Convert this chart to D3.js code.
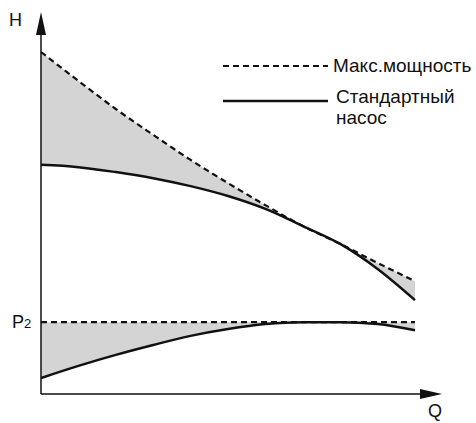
<!DOCTYPE html>
<html>
<head>
<meta charset="utf-8">
<script src="https://cdn.jsdelivr.net/npm/d3@7"></script>
<style>
  body { margin: 0; background: #fff; }
  svg { display: block; font-family: "Liberation Sans", Arial, sans-serif; }
</style>
</head>
<body>
<svg id="chart"></svg>
<script>
// flow values (Q, relative units)
var flow = [0, 10, 20, 30, 40, 50, 60, 70, 80, 90, 100];
// head curves (H, relative units)
var headMax = [90.0, 82.4, 75.0, 68.2, 61.6, 55.5, 49.7, 44.2, 39.5, 34.5, 29.7];
var headStd = [60.3, 59.7, 58.4, 56.8, 54.7, 52.1, 48.7, 44.2, 39.5, 32.9, 24.7];
// power curves
var powerMax = [18.9, 18.9, 18.9, 18.9, 18.9, 18.9, 18.9, 18.9, 18.9, 18.9, 18.9];
var powerStd = [4.2, 7.4, 10.3, 12.9, 15.3, 17.1, 18.4, 18.9, 18.9, 18.4, 16.8];
var legendLabels = ["Макс.мощность", "Стандартный", "насос"];

var width = 476, height = 423;
var svg = d3.select("#chart").attr("width", width).attr("height", height);

// scales
var x = d3.scaleLinear().domain([0, 100]).range([41, 415]);
var y = d3.scaleLinear().domain([0, 100]).range([394, 14]);

var ink = "#111";
var fillGrey = "#d4d4d4";

function pairs(ys) { return flow.map((q, i) => [q, ys[i]]); }

var area = d3.area()
  .x(d => x(d[0]))
  .y0(d => y(d[1]))
  .y1(d => y(d[2]))
  .curve(d3.curveMonotoneX);

var line = d3.line()
  .x(d => x(d[0]))
  .y(d => y(d[1]))
  .curve(d3.curveMonotoneX);

// shaded gaps
svg.append("path")
  .datum(flow.map((q, i) => [q, headStd[i], headMax[i]]))
  .attr("d", area)
  .attr("fill", fillGrey);

svg.append("path")
  .datum(flow.map((q, i) => [q, powerStd[i], powerMax[i]]))
  .attr("d", area)
  .attr("fill", fillGrey);

// curves
[[headMax, true], [headStd, false], [powerMax, true], [powerStd, false]].forEach(c => {
  svg.append("path")
    .datum(pairs(c[0]))
    .attr("d", line)
    .attr("fill", "none")
    .attr("stroke", ink)
    .attr("stroke-width", c[1] ? 2.2 : 2.5)
    .attr("stroke-dasharray", c[1] ? "6,4" : null);
});

// axes with arrows
svg.append("line")
  .attr("x1", x(0)).attr("y1", y(0))
  .attr("x2", x(0)).attr("y2", 30)
  .attr("stroke", ink).attr("stroke-width", 1.5);
svg.append("path")
  .attr("d", "M" + x(0) + ",12 L" + (x(0) - 5) + ",35 L" + (x(0) + 5) + ",35 Z")
  .attr("fill", ink);

svg.append("line")
  .attr("x1", x(0)).attr("y1", y(0))
  .attr("x2", 425).attr("y2", y(0))
  .attr("stroke", ink).attr("stroke-width", 1.5);
svg.append("path")
  .attr("d", "M442," + y(0) + " L420," + (y(0) - 5) + " L420," + (y(0) + 5) + " Z")
  .attr("fill", ink);

// axis labels
svg.append("text").attr("x", 9).attr("y", 26)
  .attr("font-size", 18).attr("fill", ink).text("H");
svg.append("text").attr("x", 428).attr("y", 417)
  .attr("font-size", 18).attr("fill", ink).text("Q");
var p2 = svg.append("text").attr("x", 12).attr("y", y(powerMax[0]) + 6)
  .attr("font-size", 18).attr("fill", ink);
p2.append("tspan").text("P");
p2.append("tspan").attr("font-size", 13).text("2");

// legend
svg.append("line")
  .attr("x1", 223).attr("x2", 328).attr("y1", 66).attr("y2", 66)
  .attr("stroke", ink).attr("stroke-width", 2.2).attr("stroke-dasharray", "6,4");
svg.append("text").attr("x", 333).attr("y", 72)
  .attr("font-size", 19).attr("fill", ink).text(legendLabels[0]);

svg.append("line")
  .attr("x1", 223).attr("x2", 328).attr("y1", 101).attr("y2", 101)
  .attr("stroke", ink).attr("stroke-width", 2.5);
svg.append("text").attr("x", 336).attr("y", 103)
  .attr("font-size", 19).attr("fill", ink).text(legendLabels[1]);
svg.append("text").attr("x", 336).attr("y", 124)
  .attr("font-size", 19).attr("fill", ink).text(legendLabels[2]);
</script>
</body>
</html>
